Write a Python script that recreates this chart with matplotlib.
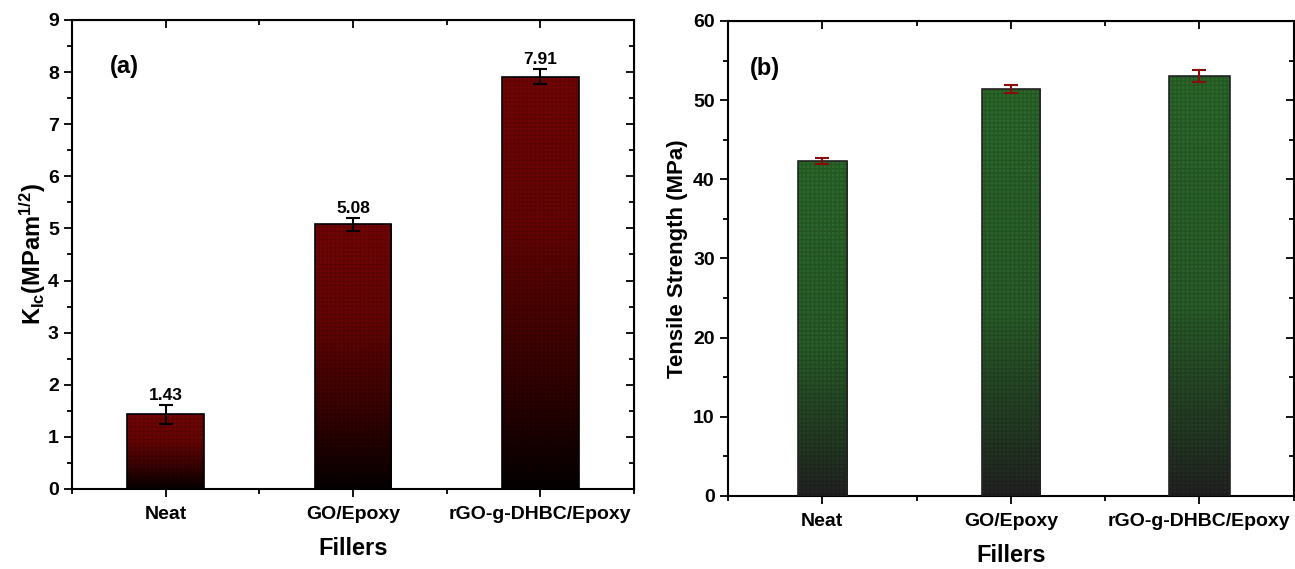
import numpy as np
import matplotlib.pyplot as plt
from matplotlib.colors import LinearSegmentedColormap

plt.rcParams['font.family'] = ['Liberation Sans', 'DejaVu Sans']
plt.rcParams['font.weight'] = 'bold'
plt.rcParams['mathtext.fontset'] = 'custom'
plt.rcParams['mathtext.rm'] = 'Liberation Sans:bold'
plt.rcParams['mathtext.it'] = 'Liberation Sans:bold'
plt.rcParams['mathtext.bf'] = 'Liberation Sans:bold'

# Data
fillers = ['Neat', 'GO/Epoxy', 'rGO-g-DHBC/Epoxy']
kic = [1.43, 5.08, 7.91]
kic_err = [0.18, 0.12, 0.14]
tensile = [42.3, 51.4, 53.0]
tensile_err = [0.35, 0.55, 0.75]

x = np.arange(1, len(fillers) + 1)

red_cmap = LinearSegmentedColormap.from_list(
    'red', [(0.0, '#050000'), (0.3, '#3a0202'), (0.65, '#6a0404'), (1.0, '#760505')])
green_cmap = LinearSegmentedColormap.from_list(
    'green', [(0.0, '#232323'), (0.15, '#243a24'), (0.45, '#2a5f2a'), (1.0, '#2c6a2c')])


def gradient_bars(ax, xs, heights, widths, cmap, edge):
    bars = ax.bar(xs, heights, width=widths, color='none', edgecolor=edge,
                  linewidth=1.2, zorder=3)
    grad = np.linspace(0, 1, 256).reshape(-1, 1)
    for b in bars:
        x0, y0 = b.get_x(), b.get_y()
        im = ax.imshow(grad, cmap=cmap, origin='lower', aspect='auto',
                       extent=[x0, x0 + b.get_width(), y0, y0 + b.get_height()],
                       zorder=2, interpolation='bilinear')
        im.set_clip_path(b)
    # faint grid texture
    ax.bar(xs, heights, width=widths, color='none', edgecolor=(0, 0, 0, 0.18),
           hatch='++++', linewidth=0, zorder=2.5)
    return bars


def style_axes(ax, ylim, major, minor):
    ax.set_xlim(0.5, 3.5)
    ax.set_ylim(*ylim)
    ax.set_xticks(x)
    ax.set_xticklabels(fillers, fontsize=14, fontweight='bold')
    ax.set_xticks([0.5, 1.5, 2.5, 3.5], minor=True)
    ax.set_yticks(np.arange(ylim[0], ylim[1] + 0.001, major))
    ax.set_yticks(np.arange(ylim[0], ylim[1] + 0.001, minor), minor=True)
    ax.tick_params(axis='y', labelsize=14)
    ax.tick_params(axis='x', pad=6)
    ax.tick_params(which='major', length=6, width=1.3, direction='out')
    ax.tick_params(which='minor', length=3.5, width=1.3, direction='out')
    for s in ax.spines.values():
        s.set_linewidth(1.5)
    for lab in ax.get_yticklabels():
        lab.set_fontweight('bold')
    # mirrored ticks pointing inward on top and right
    top = ax.secondary_xaxis('top')
    top.set_xticks(x)
    top.set_xticks([0.5, 1.5, 2.5, 3.5], minor=True)
    top.tick_params(which='major', direction='in', length=6, width=1.3, labeltop=False)
    top.tick_params(which='minor', direction='in', length=3.5, width=1.3)
    right = ax.secondary_yaxis('right')
    right.set_yticks(np.arange(ylim[0], ylim[1] + 0.001, major))
    right.set_yticks(np.arange(ylim[0], ylim[1] + 0.001, minor), minor=True)
    right.tick_params(which='major', direction='in', length=6, width=1.3, labelright=False)
    right.tick_params(which='minor', direction='in', length=3.5, width=1.3)


fig = plt.figure(figsize=(12.95, 5.69), dpi=100)
ax1 = fig.add_axes([0.0556, 0.1406, 0.434, 0.8243])
ax2 = fig.add_axes([0.5622, 0.1283, 0.4368, 0.8348])

# (a) fracture toughness
gradient_bars(ax1, x, kic, 0.41, red_cmap, 'black')
ax1.errorbar(x, kic, yerr=kic_err, fmt='none', ecolor='black', elinewidth=1.5,
             capsize=5, capthick=1.5, zorder=4)
for xi, v, e in zip(x, kic, kic_err):
    ax1.text(xi, v + e + 0.04, f'{v:.2f}', ha='center', va='bottom',
             fontsize=12.5, fontweight='bold')
style_axes(ax1, (0, 9), 1, 0.5)
ax1.set_xlabel('Fillers', fontsize=17, fontweight='bold', labelpad=10)
ax1.set_ylabel(r'K$_{\mathrm{Ic}}$(MPam$^{\mathrm{1/2}}$)', fontsize=17,
               fontweight='bold', labelpad=0)
ax1.text(0.068, 0.90, '(a)', transform=ax1.transAxes, fontsize=17,
         fontweight='bold', va='center')

# (b) tensile strength
gradient_bars(ax2, x, tensile, [0.26, 0.31, 0.32], green_cmap, '#222222')
ax2.errorbar(x, tensile, yerr=tensile_err, fmt='none', ecolor='#8b0a0a', elinewidth=1.5,
             capsize=5, capthick=1.5, zorder=4)
style_axes(ax2, (0, 60), 10, 5)
ax2.set_xlabel('Fillers', fontsize=17, fontweight='bold', labelpad=10)
ax2.set_ylabel('Tensile Strength (MPa)', fontsize=16, fontweight='bold', labelpad=4)
ax2.text(0.039, 0.90, '(b)', transform=ax2.transAxes, fontsize=17,
         fontweight='bold', va='center')

fig.savefig('out.png', dpi=100)
